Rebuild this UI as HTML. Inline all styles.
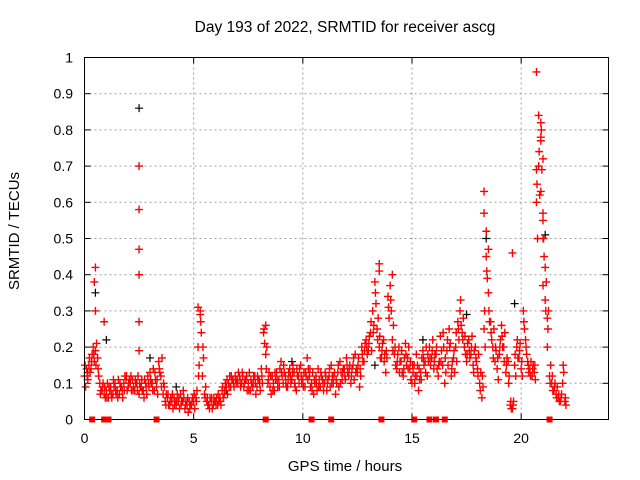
<!DOCTYPE html>
<html><head><meta charset="utf-8"><style>
body{margin:0;background:#fff;}
svg{display:block;font-family:"Liberation Sans",sans-serif;}
</style></head><body>
<svg id="chart" width="640" height="480" viewBox="0 0 640 480">
<rect width="640" height="480" fill="#fff"/>
<text x="345" y="32" font-size="15.5" text-anchor="middle">Day 193 of 2022, SRMTID for receiver ascg</text>
<text transform="translate(19,231) rotate(-90)" font-size="15" text-anchor="middle">SRMTID / TECUs</text>
<text x="345" y="471" font-size="15" text-anchor="middle">GPS time / hours</text>
<g id="grid"></g><g id="ticks"></g><g id="blk"></g><g id="red"></g>
<rect x="84.5" y="57.5" width="524" height="362" fill="none" stroke="#000" stroke-width="1"/>
</svg>
<script>
const xTicks=[0,5,10,15,20];
const yTicks=[0,0.1,0.2,0.3,0.4,0.5,0.6,0.7,0.8,0.9,1];
const yTickLabels=["0","0.1","0.2","0.3","0.4","0.5","0.6","0.7","0.8","0.9","1"];
const redStart=0, redStep=0.1;
const redA=[0.12,0.14,0.15,0.14,0.2,0.19,0.17,0.1,0.08,0.07,
0.08,0.06,0.09,0.07,0.1,0.08,0.07,0.09,0.1,0.11,
0.09,0.1,0.11,0.08,0.1,0.07,0.09,0.08,0.1,0.12,
0.13,0.1,0.08,0.09,0.16,0.12,0.07,0.05,0.06,0.04,
0.05,0.06,0.04,0.05,0.07,0.05,0.03,0.04,0.05,0.04,
0.05,0.06,0.2,0.29,0.12,0.07,0.05,0.04,0.05,0.04,
0.05,0.04,0.06,0.08,0.07,0.09,0.1,0.09,0.11,0.12,
0.11,0.12,0.1,0.09,0.11,0.1,0.08,0.09,0.12,0.09,
0.11,0.14,0.24,0.18,0.1,0.09,0.12,0.08,0.13,0.11,
0.16,0.1,0.12,0.09,0.14,0.11,0.13,0.08,0.12,0.15,
0.11,0.09,0.17,0.12,0.1,0.07,0.12,0.14,0.09,0.11,
0.1,0.08,0.12,0.15,0.1,0.07,0.13,0.16,0.11,0.14,
0.17,0.12,0.1,0.15,0.18,0.13,0.09,0.2,0.16,0.22,
0.19,0.24,0.3,0.38,0.25,0.2,0.17,0.22,0.13,0.34,
0.37,0.22,0.18,0.14,0.2,0.16,0.12,0.21,0.17,0.14,
0.1,0.15,0.18,0.08,0.13,0.19,0.16,0.12,0.2,0.17,
0.14,0.18,0.12,0.23,0.15,0.1,0.19,0.25,0.12,0.17,
0.2,0.27,0.3,0.24,0.2,0.16,0.22,0.18,0.15,0.2,
0.14,0.1,0.06,0.25,0.45,0.35,0.27,0.2,0.16,0.14,
0.18,0.26,0.2,0.13,0.16,0.04,0.03,0.15,0.2,0.17,
0.14,0.3,0.22,0.16,0.14,0.12,0.13,0.6,0.7,0.77,
0.55,0.33,0.28,0.12,0.1,0.08,0.07,0.06,0.05,0.1,0.05];
const redB=[0.09,0.11,0.13,0.18,0.16,0.21,0.12,0.08,0.1,0.06,
0.1,0.08,0.06,0.09,0.07,0.11,0.09,0.06,0.12,0.08,
0.11,0.08,0.09,0.1,0.12,0.09,0.08,0.11,0.07,0.09,
0.1,0.14,0.11,0.07,0.13,0.17,0.09,0.07,0.04,0.06,
0.03,0.05,0.07,0.03,0.05,0.06,0.05,0.02,0.04,0.06,
0.03,0.08,0.15,0.24,0.17,0.09,0.04,0.06,0.03,0.05,
0.06,0.05,0.04,0.06,0.1,0.07,0.12,0.11,0.09,0.1,
0.13,0.09,0.12,0.11,0.08,0.13,0.1,0.12,0.07,0.11,
0.08,0.1,0.21,0.2,0.13,0.07,0.1,0.11,0.09,0.14,
0.12,0.13,0.09,0.13,0.1,0.15,0.09,0.12,0.14,0.1,
0.13,0.12,0.14,0.09,0.13,0.1,0.08,0.11,0.12,0.08,
0.12,0.11,0.09,0.12,0.13,0.1,0.09,0.13,0.14,0.11,
0.13,0.15,0.14,0.11,0.14,0.17,0.12,0.16,0.21,0.18,
0.23,0.19,0.26,0.32,0.28,0.17,0.21,0.18,0.17,0.28,
0.3,0.26,0.15,0.18,0.16,0.13,0.17,0.15,0.2,0.11,
0.13,0.12,0.15,0.11,0.17,0.15,0.2,0.16,0.15,0.22,
0.18,0.14,0.16,0.19,0.2,0.13,0.15,0.21,0.16,0.13,
0.16,0.22,0.26,0.28,0.18,0.21,0.17,0.23,0.19,0.16,
0.18,0.13,0.09,0.2,0.39,0.27,0.22,0.25,0.19,0.11,
0.22,0.2,0.24,0.17,0.12,0.03,0.05,0.12,0.17,0.21,
0.12,0.25,0.18,0.13,0.16,0.15,0.11,0.5,0.62,0.69,
0.45,0.38,0.3,0.15,0.08,0.1,0.09,0.05,0.07,0.13,0.04];
const redC=[0.15,0.12,0.17,0.16,0.18,0.15,0.14,0.07,0.09,0.09,
0.06,0.09,0.07,0.11,0.08,0.06,0.1,0.08,0.08,0.12,
0.1,0.12,0.08,0.11,0.08,0.1,0.11,0.06,0.09,0.1,
0.11,0.08,0.13,0.11,0.14,0.09,0.1,0.04,0.07,0.05,
0.07,0.04,0.05,0.06,0.04,0.08,0.04,0.06,0.03,0.05,
0.07,0.05,0.12,0.27,0.2,0.06,0.06,0.03,0.06,0.06,
0.04,0.07,0.05,0.09,0.08,0.11,0.09,0.12,0.1,0.11,
0.1,0.11,0.13,0.1,0.12,0.08,0.11,0.1,0.1,0.12,
0.1,0.12,0.25,0.14,0.11,0.12,0.08,0.13,0.11,0.09,
0.13,0.15,0.1,0.11,0.12,0.13,0.1,0.14,0.1,0.12,
0.09,0.13,0.11,0.14,0.08,0.11,0.1,0.09,0.13,0.1,
0.13,0.1,0.14,0.1,0.12,0.11,0.15,0.1,0.13,0.12,
0.15,0.14,0.12,0.17,0.13,0.15,0.14,0.18,0.19,0.2,
0.21,0.27,0.24,0.35,0.22,0.23,0.19,0.16,0.19,0.31,
0.33,0.19,0.2,0.16,0.13,0.19,0.14,0.18,0.14,0.16,
0.15,0.1,0.12,0.14,0.11,0.17,0.13,0.18,0.17,0.19,
0.16,0.2,0.15,0.16,0.24,0.17,0.22,0.2,0.14,0.19,
0.24,0.25,0.33,0.22,0.23,0.18,0.19,0.2,0.13,0.17,
0.12,0.08,0.12,0.3,0.41,0.3,0.24,0.17,0.2,0.17,
0.2,0.23,0.16,0.15,0.1,0.05,0.04,0.18,0.22,0.19,
0.16,0.27,0.2,0.15,0.12,0.14,0.15,0.65,0.74,0.8,
0.5,0.3,0.25,0.1,0.12,0.09,0.06,0.07,0.06,0.15,0.06];
const redOutT=[0.45,0.5,0.5,0.9,2.5,2.5,2.5,2.5,2.5,2.5,5.2,5.3,8.3,13.5,13.5,14.1,18.3,18.3,18.4,18.5,19.6,20.7,20.8,20.9,20.9,21.0,20.7,20.9,21.0,21.0,21.1,21.0,21.2];
const redOutV=[0.38,0.42,0.3,0.27,0.70,0.58,0.47,0.4,0.27,0.19,0.31,0.3,0.26,0.43,0.41,0.4,0.63,0.57,0.52,0.47,0.46,0.96,0.84,0.82,0.78,0.72,0.69,0.63,0.57,0.5,0.42,0.37,0.2];
const zeroT=[0.35,0.9,1.1,3.3,8.3,10.4,11.3,13.6,15.1,15.8,16.1,16.5,21.3];
const blackT=[0.15,0.5,1.0,3.0,2.5,18.4,19.7,21.1,13.3,15.5,17.5,9.5,4.2,6.5];
const blackV=[0.13,0.35,0.22,0.17,0.86,0.5,0.32,0.51,0.15,0.22,0.29,0.16,0.09,0.08];

const X0=84.5,X1=608.5,Y0=419.5,Y1=57.5;
const xs=t=>X0+(t/24)*(X1-X0);
const ys=v=>Y0-v*(Y0-Y1);
const NS="http://www.w3.org/2000/svg";
function mk(tag,attrs,parent){const e=document.createElementNS(NS,tag);for(const k in attrs)e.setAttribute(k,attrs[k]);parent.appendChild(e);return e;}
const grid=document.getElementById('grid'),ticks=document.getElementById('ticks');
xTicks.forEach(t=>{
  const x=xs(t);
  if(t>0){const g=mk('line',{x1:x,x2:x,y1:Y1,y2:Y0,stroke:'#a0a0a0','stroke-dasharray':'2,3'},grid);
  
  }
  mk('line',{x1:x,x2:x,y1:Y0,y2:Y0-6,stroke:'#000'},ticks);
  mk('line',{x1:x,x2:x,y1:Y1,y2:Y1+6,stroke:'#000'},ticks);
  const l=mk('text',{x:x,y:443,'font-size':14,'text-anchor':'middle'},ticks);l.textContent=t;
  
  
});
yTicks.forEach((v,i)=>{
  const y=ys(v);
  if(v>0&&v<1){const g=mk('line',{x1:X0,x2:X1,y1:y,y2:y,stroke:'#a0a0a0','stroke-dasharray':'2,3'},grid);
  
  }
  mk('line',{x1:X0,x2:X0+6,y1:y,y2:y,stroke:'#000'},ticks);
  mk('line',{x1:X1,x2:X1-6,y1:y,y2:y,stroke:'#000'},ticks);
  const l=mk('text',{x:73,y:y+5,'font-size':14,'text-anchor':'end'},ticks);l.textContent=yTickLabels[i];
  
  
});
function plus(t,v){const x=xs(t),y=ys(v);return `M${x-4},${y}h8M${x},${y-4}v8`;}
let dB='';blackT.forEach((t,i)=>dB+=plus(t,blackV[i]));
const pb=mk('path',{d:dB,stroke:'#000','stroke-width':1.2,fill:'none'},document.getElementById('blk'));


let dR='';
redA.forEach((v,i)=>dR+=plus(redStart+i*redStep,v));
redB.forEach((v,i)=>dR+=plus(redStart+i*redStep+0.05,v));
redC.forEach((v,i)=>dR+=plus(redStart+i*redStep+0.025,v));
redOutT.forEach((t,i)=>dR+=plus(t,redOutV[i]));
const pr=mk('path',{d:dR,stroke:'#f00','stroke-width':1.4,fill:'none'},document.getElementById('red'));


zeroT.forEach(t=>{
  const r=mk('rect',{x:xs(t)-3,y:Y0-3,width:6,height:6,fill:'#f00'},document.getElementById('red'));
  
  
});
</script>
</body></html>
